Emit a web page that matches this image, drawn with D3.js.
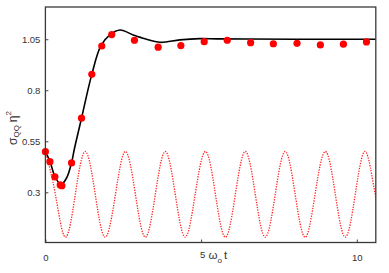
<!DOCTYPE html>
<html>
<head>
<meta charset="utf-8">
<script src="https://cdn.jsdelivr.net/npm/d3@7"></script>
<style>
  body { margin: 0; background: #fff; }
  text { font-family: "Liberation Sans", Arial, sans-serif; fill: #333; }
</style>
</head>
<body>
<svg id="chart"></svg>
<script>
// simulation points (red dots)
const dotT = [0, 0.145, 0.305, 0.476, 0.53, 0.84, 1.16, 1.49, 1.81, 2.13, 2.86, 3.62, 4.35, 5.10, 5.84, 6.59, 7.32, 8.08, 8.83, 9.57, 10.31]
const dotY = [0.499, 0.45, 0.376, 0.336, 0.332, 0.444, 0.663, 0.878, 1.017, 1.073, 1.045, 1.011, 1.019, 1.038, 1.045, 1.033, 1.028, 1.030, 1.022, 1.026, 1.037]

// black theory curve
const curveT = [0, 0.15, 0.30, 0.50, 0.68, 0.84, 0.93, 1.16, 1.49, 1.78, 2.07, 2.40, 2.82, 3.20, 3.68, 4.32, 4.96, 5.50, 6.50, 8.00, 10.61]
const curveY = [0.50, 0.45, 0.38, 0.338, 0.37, 0.445, 0.512, 0.663, 0.878, 1.017, 1.071, 1.095, 1.071, 1.052, 1.035, 1.047, 1.053, 1.052, 1.051, 1.05, 1.05]

// red dotted oscillation (extrema and mid crossings)
const oscT = [0, 0.32, 0.64, 0.96, 1.28, 1.60, 1.92, 2.25, 2.57, 2.89, 3.21, 3.53, 3.85, 4.17, 4.49, 4.81, 5.14,
              5.46, 5.78, 6.10, 6.42, 6.74, 7.06, 7.38, 7.70, 8.02, 8.34, 8.66, 8.99, 9.31, 9.63, 9.95, 10.27, 10.59, 10.91]
const oscY = [0.50, 0.29, 0.08, 0.29, 0.50, 0.29, 0.08, 0.29, 0.50, 0.29, 0.08, 0.29, 0.50, 0.29, 0.08, 0.29, 0.50,
              0.29, 0.08, 0.29, 0.50, 0.29, 0.08, 0.29, 0.50, 0.29, 0.08, 0.29, 0.50, 0.29, 0.08, 0.29, 0.50, 0.29, 0.08]

const xTicks = [0, 5, 10]
const xTickLabels = ["0", "5", "10"]
const yTicks = [0.3, 0.55, 0.8, 1.05]
const yTickLabels = ["0.3", "0.55", "0.8", "1.05"]

const width = 389, height = 273
const plot = { left: 45.4, right: 375.8, top: 7, bottom: 242.5 }

const svg = d3.select("#chart").attr("width", width).attr("height", height)

const x = d3.scaleLinear().domain([0, 10.61]).range([plot.left, plot.right])
const y = d3.scaleLinear().domain([0.054, 1.208]).range([plot.bottom, plot.top])

svg.append("clipPath").attr("id", "clip")
  .append("rect")
  .attr("x", plot.left).attr("y", plot.top)
  .attr("width", plot.right - plot.left).attr("height", plot.bottom - plot.top)

const g = svg.append("g").attr("clip-path", "url(#clip)")

// dotted oscillation
const oscLine = d3.line()
  .x((d, i) => x(oscT[i]))
  .y(d => y(d))
  .curve(d3.curveNatural)
g.append("path")
  .attr("d", oscLine(oscY))
  .attr("fill", "none")
  .attr("stroke", "#f22")
  .attr("stroke-width", 1.3)
  .attr("stroke-dasharray", "1.3,1.3")

// black curve
const mainLine = d3.line()
  .x((d, i) => x(curveT[i]))
  .y(d => y(d))
  .curve(d3.curveCatmullRom)
g.append("path")
  .attr("d", mainLine(curveY))
  .attr("fill", "none")
  .attr("stroke", "#000")
  .attr("stroke-width", 1.6)

// red dots
svg.append("g").selectAll("circle")
  .data(dotY)
  .enter()
  .append("circle")
  .attr("cx", (d, i) => x(dotT[i]))
  .attr("cy", d => y(d))
  .attr("r", 3.6)
  .attr("fill", "#f00")

// axes with inward ticks
const yAxis = svg.append("g")
  .attr("transform", `translate(${plot.left},0)`)
  .call(d3.axisLeft(y).tickValues(yTicks).tickSize(-3).tickPadding(5)
    .tickFormat((d, i) => yTickLabels[i]))
yAxis.select(".domain").remove()
yAxis.selectAll("line").attr("stroke", "#444")
yAxis.selectAll("text").attr("font-size", 9.5).attr("fill", "#333")

const xAxis = svg.append("g")
  .attr("transform", `translate(0,${plot.bottom})`)
  .call(d3.axisBottom(x).tickValues(xTicks).tickSize(-3)
    .tickFormat((d, i) => xTickLabels[i]))
xAxis.select(".domain").remove()
xAxis.selectAll("line").attr("stroke", "#444")
xAxis.selectAll("text")
  .attr("font-size", 9.5).attr("fill", "#333")
  .attr("dy", 0)
  .attr("y", (d, i) => d === 5 ? 15 : 18)
  .attr("dx", (d, i) => d === 5 ? 1 : 0)

// frame
svg.append("rect")
  .attr("x", plot.left).attr("y", plot.top)
  .attr("width", plot.right - plot.left).attr("height", plot.bottom - plot.top)
  .attr("fill", "none")
  .attr("stroke", "#3a3a3a")
  .attr("stroke-width", 1.3)

// axis titles
const xt = svg.append("text")
  .attr("x", 208.5).attr("y", 259)
  .attr("font-size", 11.5)
xt.append("tspan").text("ω")
xt.append("tspan").attr("font-size", 8).attr("dy", 3.5).text("o")
xt.append("tspan").attr("dy", -3.5).attr("dx", 2).text("t")

const yt = svg.append("text")
  .attr("transform", "translate(16.5,145) rotate(-90)")
  .attr("font-size", 12)
yt.append("tspan").text("σ")
yt.append("tspan").attr("font-size", 8).attr("dy", 2.5).text("QQ")
yt.append("tspan").attr("dy", -2.5).attr("dx", 3).text("η")
yt.append("tspan").attr("font-size", 8).attr("dy", -6).text("2")
</script>
</body>
</html>
